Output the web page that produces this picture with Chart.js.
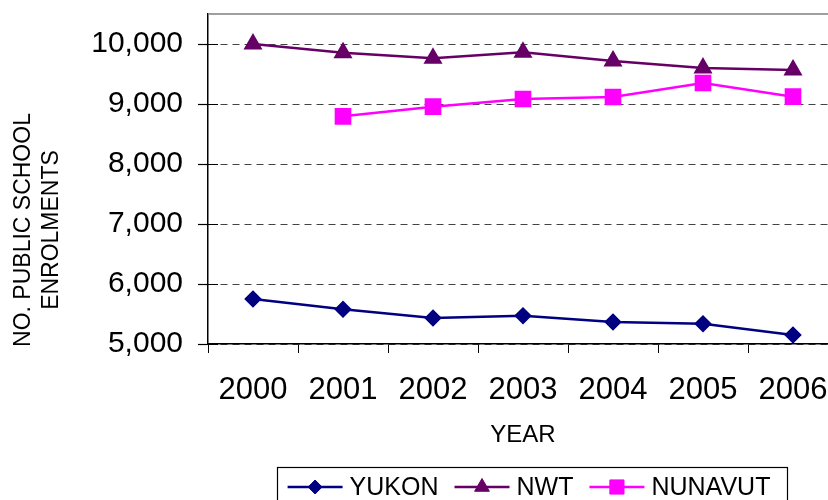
<!DOCTYPE html>
<html>
<head>
<meta charset="utf-8">
<script src="https://cdn.jsdelivr.net/npm/chart.js@4.4.0/dist/chart.umd.min.js"></script>
<style>
  html, body { margin: 0; padding: 0; background: #fff; overflow: hidden; }
  #wrap { position: relative; width: 828px; height: 500px; overflow: hidden; }
  #c { position: absolute; left: 0; top: 0; }
</style>
</head>
<body>
<div id="wrap"><canvas id="c" width="1064" height="500"></canvas></div>
<script>
// ---- data ----
const years = ['2000', '2001', '2002', '2003', '2004', '2005', '2006'];
const yukon = [5750, 5578, 5433, 5472, 5367, 5339, 5150];
const nwt = [10000, 9856, 9761, 9861, 9717, 9600, 9567];
const nunavut = [null, 8794, 8956, 9083, 9117, 9350, 9122];
const yTicks = [5000, 6000, 7000, 8000, 9000, 10000];
const yTitle = ['NO. PUBLIC SCHOOL', 'ENROLMENTS'];
const xTitle = 'YEAR';
const seriesNames = ['YUKON', 'NWT', 'NUNAVUT'];

const FONT = '"Liberation Sans", Arial, sans-serif';

const frame = {
  id: 'frame',
  beforeDatasetsDraw(chart) {
    const { ctx, chartArea: a } = chart;
    ctx.save();
    ctx.strokeStyle = '#808080';
    ctx.lineWidth = 1.5;
    ctx.beginPath();
    ctx.moveTo(a.left, a.top);
    ctx.lineTo(a.right, a.top);
    ctx.lineTo(a.right, a.bottom);
    ctx.stroke();
    // inner half of the y tick marks (they cross the axis)
    const y = chart.scales.y;
    ctx.strokeStyle = '#000';
    ctx.lineWidth = 1.2;
    ctx.beginPath();
    y.ticks.forEach(t => {
      const py = Math.round(y.getPixelForValue(t.value)) + 0.5;
      ctx.moveTo(a.left, py);
      ctx.lineTo(a.left + 10, py);
    });
    ctx.stroke();
    ctx.restore();
  },
  afterDraw(chart) {
    const { ctx } = chart;
    ctx.save();
    // y-axis title (two centred lines, rotated)
    ctx.fillStyle = '#000';
    ctx.font = '23px ' + FONT;
    ctx.textAlign = 'center';
    ctx.textBaseline = 'middle';
    const cy = 230;
    const xs = [24, 52];
    yTitle.forEach((t, i) => {
      ctx.save();
      ctx.translate(xs[i], cy);
      ctx.rotate(-Math.PI / 2);
      ctx.fillText(t, 0, 0);
      ctx.restore();
    });

    // legend with line + marker samples
    ctx.font = '25px ' + FONT;
    ctx.textAlign = 'left';
    const lineLen = 55, gapText = 7, gapItem = 16;
    const items = chart.data.datasets.map(ds => ({ ds, w: ctx.measureText(ds.label).width }));
    const content = items.reduce((s, it) => s + lineLen + gapText + it.w, 0) + gapItem * (items.length - 1);
    const boxL = 277, boxR = 787;
    let x = boxL + 8 + ((boxR - boxL - 22) - content) / 2;
    const ty = 487;
    ctx.strokeStyle = '#000';
    ctx.lineWidth = 1.2;
    ctx.strokeRect(boxL + 0.5, 467.5, boxR - boxL, 60);
    items.forEach(({ ds, w }) => {
      ctx.strokeStyle = ds.borderColor;
      ctx.lineWidth = ds.borderWidth;
      ctx.beginPath();
      ctx.moveTo(x, ty);
      ctx.lineTo(x + lineLen, ty);
      ctx.stroke();
      ctx.fillStyle = ds.pointBackgroundColor;
      ctx.strokeStyle = ds.borderColor;
      ctx.lineWidth = 1;
      Chart.helpers.drawPoint(ctx, { pointStyle: ds.pointStyle, radius: ds.pointRadius, rotation: 0, borderWidth: 1 }, x + lineLen / 2, ty);
      ctx.fillStyle = '#000';
      ctx.fillText(ds.label, x + lineLen + gapText, ty + 1);
      x += lineLen + gapText + w + gapItem;
    });
    ctx.restore();
  }
};

new Chart(document.getElementById('c'), {
  type: 'line',
  data: {
    labels: years,
    datasets: [
      { label: seriesNames[0], data: yukon, borderColor: '#000080', backgroundColor: '#000080',
        pointBackgroundColor: '#000080', pointBorderColor: '#000080', pointStyle: 'rectRot', pointRadius: 7, borderWidth: 2.5 },
      { label: seriesNames[1], data: nwt, borderColor: '#660066', backgroundColor: '#660066',
        pointBackgroundColor: '#660066', pointBorderColor: '#660066', pointStyle: 'triangle', pointRadius: 8.5, borderWidth: 2.5 },
      { label: seriesNames[2], data: nunavut, borderColor: '#FF00FF', backgroundColor: '#FF00FF',
        pointBackgroundColor: '#FF00FF', pointBorderColor: '#FF00FF', pointStyle: 'rect', pointRadius: 10, borderWidth: 2.5 }
    ]
  },
  options: {
    responsive: false,
    animation: false,
    devicePixelRatio: 1,
    layout: { padding: { left: 0, top: 14, right: 226, bottom: 0 } },
    elements: { line: { tension: 0 }, point: { borderWidth: 1 } },
    plugins: { legend: { display: false }, tooltip: { enabled: false } },
    scales: {
      x: {
        offset: true,
        grid: { display: true, drawOnChartArea: false, offset: true, tickLength: 9, color: '#000', tickColor: '#000' },
        border: { color: '#000', width: 1.5 },
        ticks: { color: '#000', font: { family: FONT, size: 31 }, padding: 19, maxRotation: 0, autoSkip: false },
        title: { display: true, text: xTitle, color: '#000', font: { family: FONT, size: 24 }, padding: { top: 0, bottom: 50 } },
        afterFit(scale) { scale.height = 156; scale.paddingLeft = 0; scale.paddingRight = 0; }
      },
      y: {
        min: 5000, max: 10500,
        ticks: { color: '#000', font: { family: FONT, size: 30 }, padding: 15,
          callback: v => v.toLocaleString('en-US') },
        afterBuildTicks(scale) { scale.ticks = yTicks.map(v => ({ value: v })); },
        grid: { color: '#444', lineWidth: 1, tickLength: 10, tickColor: '#000', tickBorderDash: [], tickWidth: 1.2 },
        border: { color: '#000', width: 1.5, dash: [7, 5] },
        afterFit(scale) { scale.width = 208; scale.paddingTop = 0; scale.paddingBottom = 0; }
      }
    }
  },
  plugins: [frame]
});
</script>
</body>
</html>
